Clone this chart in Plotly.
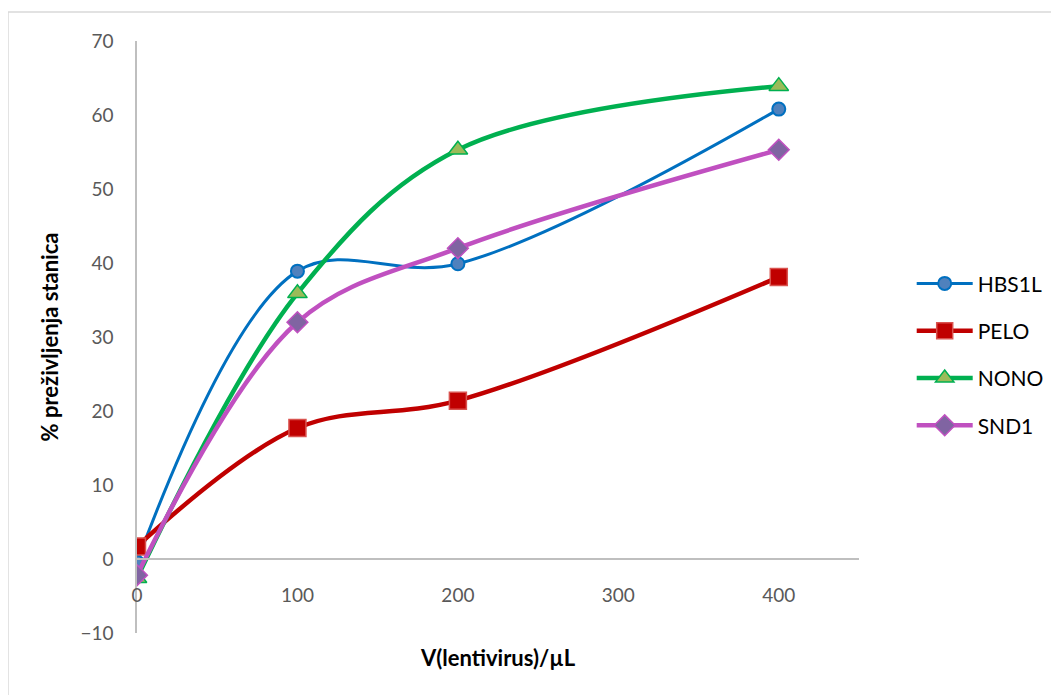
import plotly.graph_objects as go

x_vals = [0, 100, 200, 400]
hbs1l = [-0.4, 38.9, 39.9, 60.8]
pelo = [1.7, 17.7, 21.4, 38.1]
nono = [-2.6, 35.9, 55.3, 63.9]
snd1 = [-2.2, 32.0, 42.0, 55.3]
series_names = ["HBS1L", "PELO", "NONO", "SND1"]
x_ticks = [0, 100, 200, 300, 400]
y_ticks = [-10, 0, 10, 20, 30, 40, 50, 60, 70]

styles = [
    dict(line=dict(color="#0070C0", width=3, shape="spline", smoothing=1),
         marker=dict(symbol="circle", size=13, color="#4F81BD", line=dict(color="#0070C0", width=2))),
    dict(line=dict(color="#C00000", width=4.5, shape="spline", smoothing=1),
         marker=dict(symbol="square", size=17, color="#C00000", line=dict(color="#D9534F", width=1.5))),
    dict(line=dict(color="#00B050", width=4.5, shape="spline", smoothing=1),
         marker=dict(symbol="triangle-up", size=17, color="#9BBB59", line=dict(color="#00B050", width=1.5))),
    dict(line=dict(color="#C050C0", width=4.5, shape="spline", smoothing=1),
         marker=dict(symbol="diamond", size=16, color="#8064A2", line=dict(color="#C050C0", width=1.5))),
]

fig = go.Figure()
for i, (name, ys) in enumerate(zip(series_names, [hbs1l, pelo, nono, snd1])):
    fig.add_trace(go.Scatter(x=x_vals, y=ys, name=name, mode="lines+markers",
                             legendgroup=name, **styles[i]))

font_family = "Lato, 'Open Sans', sans-serif"
fig.update_layout(
    width=1051, height=687,
    margin=dict(l=129, r=200, t=33, b=62, autoexpand=False),
    paper_bgcolor="white", plot_bgcolor="white",
    font=dict(family=font_family, size=19, color="#595959"),
    showlegend=True,
    legend=dict(x=1.073, y=0.47, xanchor="left", yanchor="middle",
                font=dict(size=21, color="#000000"),
                tracegroupgap=17, traceorder="grouped", itemwidth=56,
                bgcolor="rgba(0,0,0,0)"),
    xaxis=dict(range=[0, 450], tickvals=x_ticks, showgrid=False, zeroline=False,
               showline=True, linecolor="#BFBFBF", linewidth=1.5,
               anchor="free", position=0.125, ticks="",
               ticklabelstandoff=19),
    yaxis=dict(range=[-10, 70], tickvals=y_ticks, showgrid=False, zeroline=False,
               showline=True, linecolor="#BFBFBF", linewidth=1.5, ticks="",
               ticklabelstandoff=18,
               title=dict(text="<b>% preživljenja stanica</b>", font=dict(size=22, color="#000000"), standoff=16)),
    shapes=[dict(type="rect", xref="paper", yref="paper",
                 x0=-0.1787, y0=-0.3, x1=1.4, y1=1.049,
                 line=dict(color="#D9D9D9", width=1.5), fillcolor="rgba(0,0,0,0)", layer="below")],
)

fig.add_annotation(text="<b>V(lentivirus)/µL</b>", xref="paper", yref="paper",
                   x=0.5, y=-0.042, showarrow=False, yanchor="middle",
                   font=dict(size=22, color="#000000", family=font_family))

fig.write_html("out.html")
